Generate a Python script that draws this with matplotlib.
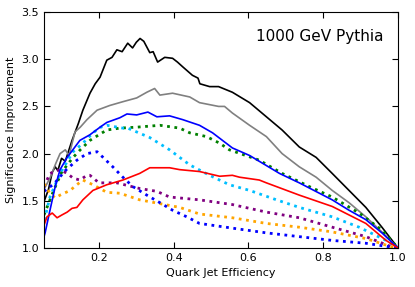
import numpy as np
import matplotlib
matplotlib.use("Agg")
import matplotlib.pyplot as plt

# quark jet efficiency / significance improvement
x_black = [0.053, 0.065, 0.075, 0.083, 0.09, 0.1, 0.11, 0.128, 0.145, 0.157, 0.176, 0.19, 0.203,
           0.221, 0.235, 0.248, 0.262, 0.277, 0.29, 0.3, 0.31, 0.32, 0.328, 0.336, 0.345, 0.357,
           0.376, 0.397, 0.41, 0.424, 0.45, 0.465, 0.47, 0.496, 0.52, 0.557, 0.603, 0.648, 0.69,
           0.736, 0.781, 0.824, 0.869, 0.914, 0.957, 1.0]
y_black = [1.49, 1.62, 1.8, 1.86, 1.82, 1.95, 1.92, 2.14, 2.32, 2.46, 2.64, 2.74, 2.81,
           2.99, 3.02, 3.1, 3.08, 3.17, 3.12, 3.18, 3.22, 3.19, 3.13, 3.07, 3.08, 2.97,
           3.02, 3.01, 2.97, 2.92, 2.83, 2.8, 2.74, 2.71, 2.71, 2.65, 2.54, 2.39, 2.25,
           2.07, 1.96, 1.79, 1.61, 1.43, 1.22, 1.0]

x_gray = [0.053, 0.07, 0.085, 0.096, 0.11, 0.12, 0.136, 0.15, 0.168, 0.195, 0.229, 0.264, 0.301,
          0.328, 0.349, 0.363, 0.397, 0.443, 0.469, 0.52, 0.536, 0.557, 0.603, 0.648, 0.69,
          0.736, 0.781, 0.824, 0.869, 0.914, 0.957, 1.0]
y_gray = [1.62, 1.75, 1.9, 2.0, 2.04, 1.98, 2.23, 2.28, 2.36, 2.46, 2.51, 2.55, 2.59,
          2.65, 2.69, 2.62, 2.64, 2.6, 2.54, 2.5, 2.5, 2.43, 2.3, 2.18, 2.0,
          1.86, 1.75, 1.61, 1.48, 1.33, 1.17, 1.0]

x_blue = [0.053, 0.056, 0.069, 0.083, 0.096, 0.115, 0.149, 0.176, 0.203, 0.221, 0.256, 0.275,
          0.301, 0.331, 0.355, 0.389, 0.424, 0.469, 0.504, 0.557, 0.603, 0.683, 0.736, 0.824,
          0.869, 0.914, 0.957, 1.0]
y_blue = [1.12, 1.16, 1.4, 1.65, 1.83, 1.96, 2.14, 2.2, 2.28, 2.33, 2.38, 2.42,
          2.41, 2.44, 2.39, 2.4, 2.36, 2.3, 2.22, 2.06, 1.98, 1.79, 1.69, 1.51,
          1.4, 1.3, 1.16, 1.0]

x_green = [0.053, 0.061, 0.08, 0.1, 0.115, 0.131, 0.15, 0.176, 0.2, 0.221, 0.256, 0.301, 0.363,
           0.416, 0.443, 0.488, 0.523, 0.549, 0.629, 0.69, 0.763, 0.824, 0.896, 0.957, 1.0]
y_green = [1.35, 1.43, 1.62, 1.8, 1.88, 1.96, 2.04, 2.14, 2.2, 2.25, 2.27, 2.28, 2.3,
           2.27, 2.22, 2.18, 2.11, 2.04, 1.93, 1.79, 1.65, 1.54, 1.37, 1.19, 1.0]

x_cyan = [0.053, 0.056, 0.069, 0.096, 0.131, 0.157, 0.184, 0.205, 0.221, 0.264, 0.277, 0.336,
          0.389, 0.443, 0.496, 0.549, 0.603, 0.675, 0.736, 0.824, 0.896, 0.968, 1.0]
y_cyan = [1.3, 1.33, 1.54, 1.79, 2.02, 2.11, 2.22, 2.28, 2.3, 2.27, 2.27, 2.17,
          2.04, 1.88, 1.77, 1.67, 1.61, 1.51, 1.43, 1.33, 1.22, 1.08, 1.0]

x_red = [0.053, 0.061, 0.075, 0.088, 0.101, 0.115, 0.128, 0.141, 0.157, 0.184, 0.221, 0.264,
         0.309, 0.336, 0.389, 0.416, 0.469, 0.523, 0.557, 0.576, 0.629, 0.648, 0.736, 0.824,
         0.914, 0.968, 1.0]
y_red = [1.24, 1.33, 1.37, 1.32, 1.35, 1.38, 1.42, 1.43, 1.51, 1.61, 1.67, 1.72,
         1.79, 1.85, 1.85, 1.83, 1.81, 1.76, 1.77, 1.75, 1.72, 1.69, 1.56, 1.44,
         1.26, 1.08, 1.0]

x_purple = [0.053, 0.069, 0.096, 0.115, 0.131, 0.149, 0.168, 0.176, 0.2, 0.248, 0.309, 0.355,
            0.389, 0.469, 0.557, 0.648, 0.736, 0.824, 0.914, 0.984, 1.0]
y_purple = [1.65, 1.79, 1.83, 1.79, 1.74, 1.72, 1.77, 1.77, 1.69, 1.69, 1.63, 1.6,
            1.54, 1.51, 1.46, 1.38, 1.32, 1.22, 1.12, 1.01, 1.0]

x_orange = [0.053, 0.069, 0.083, 0.096, 0.123, 0.141, 0.157, 0.184, 0.221, 0.256, 0.309, 0.363,
            0.416, 0.469, 0.557, 0.648, 0.736, 0.824, 0.914, 0.984, 1.0]
y_orange = [1.68, 1.58, 1.53, 1.56, 1.61, 1.67, 1.72, 1.67, 1.59, 1.58, 1.51, 1.47,
            1.43, 1.36, 1.32, 1.26, 1.22, 1.17, 1.1, 1.01, 1.0]

x_bdot = [0.053, 0.08, 0.11, 0.141, 0.168, 0.195, 0.211, 0.237, 0.264, 0.291, 0.328, 0.363,
          0.397, 0.435, 0.469, 0.557, 0.648, 0.736, 0.824, 0.914, 0.98, 1.0]
y_bdot = [1.6, 1.68, 1.82, 1.93, 2.0, 2.02, 1.96, 1.86, 1.75, 1.65, 1.56, 1.48,
          1.4, 1.33, 1.26, 1.21, 1.16, 1.12, 1.08, 1.05, 1.01, 1.0]

plt.rcParams['xtick.direction'] = 'in'
plt.rcParams['ytick.direction'] = 'in'
plt.rcParams['xtick.top'] = True
plt.rcParams['ytick.right'] = True

fig = plt.figure(figsize=(4.15, 2.87), dpi=100)
ax = fig.add_axes([0.106, 0.136, 0.853, 0.822])

ax.plot(x_black, y_black, color='black', lw=1.2)
ax.plot(x_gray, y_gray, color='gray', lw=1.2)
ax.plot(x_green, y_green, color='green', lw=2, ls=':')
ax.plot(x_cyan, y_cyan, color='deepskyblue', lw=2, ls=':')
ax.plot(x_purple, y_purple, color='purple', lw=2, ls=':')
ax.plot(x_orange, y_orange, color='orange', lw=2, ls=':')
ax.plot(x_bdot, y_bdot, color='blue', lw=2, ls=':')
ax.plot(x_blue, y_blue, color='blue', lw=1.2)
ax.plot(x_red, y_red, color='red', lw=1.2)

ax.set_xlim(0.053, 1.0)
ax.set_ylim(1.0, 3.5)
ax.set_xticks([0.2, 0.4, 0.6, 0.8, 1.0])
ax.set_yticks([1.0, 1.5, 2.0, 2.5, 3.0, 3.5])
ax.tick_params(labelsize=8, length=4)
ax.set_xlabel("Quark Jet Efficiency", fontsize=8)
ax.set_ylabel("Significance Improvement", fontsize=8)
ax.text(0.96, 0.93, "1000 GeV Pythia", transform=ax.transAxes, ha='right', va='top', fontsize=11)

plt.savefig("out.png", dpi=100)
